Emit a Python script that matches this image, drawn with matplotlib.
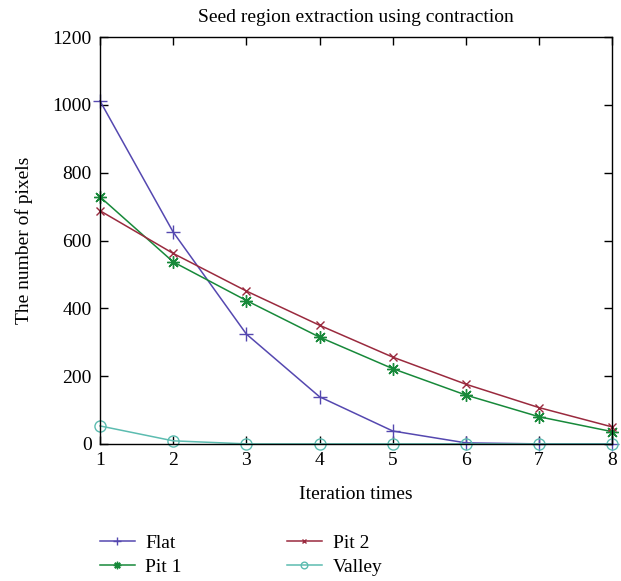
import numpy as np
import matplotlib
matplotlib.use('Agg')
import matplotlib.pyplot as plt

# --- DATA ---
iterations = [1, 2, 3, 4, 5, 6, 7, 8]
flat = [1012, 625, 324, 139, 38, 3, 0, 0]
pit1 = [729, 537, 423, 315, 222, 144, 80, 36]
pit2 = [688, 562, 451, 350, 256, 176, 107, 50]
valley = [53, 9, 0, 0, 0, 0, 0, 0]

# asterisk marker like gnuplot's "*" (plus and cross overlaid)
asterisk = (8, 2, 0)

series = [
    ("Flat", flat, "#5548b0", "+", 10, "full"),
    ("Pit 1", pit1, "#17893a", asterisk, 9, "full"),
    ("Pit 2", pit2, "#9a2a3e", "x", 6, "full"),
    ("Valley", valley, "#5cbcb0", "o", 8, "none"),
]

plt.rcParams['font.family'] = ['Liberation Serif', 'DejaVu Serif']
plt.rcParams['font.size'] = 14

fig = plt.figure(figsize=(6.21, 5.81), dpi=100)
ax = fig.add_axes([0.161, 0.236, 0.825, 0.700])

handles = []
for label, vals, color, marker, ms, fill in series:
    h, = ax.plot(iterations, vals, color=color, marker=marker, markersize=ms,
                 fillstyle=fill, markeredgewidth=1.0, linewidth=1.1,
                 label=label, clip_on=False)
    handles.append(h)

ax.set_xlim(1, 8)
ax.set_ylim(0, 1200)
ax.set_xticks(range(1, 9))
ax.set_yticks(range(0, 1201, 200))
ax.tick_params(direction='in', top=True, right=True, length=6, width=1, pad=6)
for s in ax.spines.values():
    s.set_linewidth(1.0)

ax.set_title('Seed region extraction using contraction', fontsize=14, pad=11)
ax.set_xlabel('Iteration times', labelpad=12)
ax.set_ylabel('The number of pixels', labelpad=14)

fig.legend(handles=handles, loc='upper left', bbox_to_anchor=(90 / 621, 0.097),
           ncol=2, frameon=False, borderpad=0, columnspacing=5.4,
           handlelength=1.8, handletextpad=0.55, labelspacing=0.32,
           markerscale=0.6)

fig.savefig('out.png', dpi=100)
